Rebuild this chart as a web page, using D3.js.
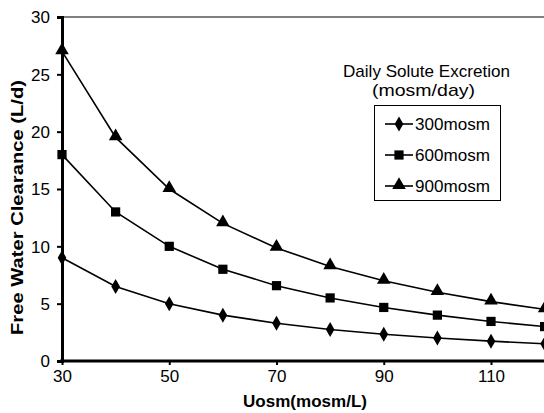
<!DOCTYPE html>
<html><head><meta charset="utf-8">
<script src="https://cdn.jsdelivr.net/npm/d3@7"></script>
<style>body{margin:0;background:#fff}svg{display:block}text{font-family:"Liberation Sans",Arial,sans-serif;fill:#000}</style>
</head><body>
<svg id="c" width="544" height="413"></svg>
<script>
const uosm = [30,40,50,60,70,80,90,100,110,120];
const s300 = [9,6.5,5,4,3.29,2.75,2.33,2,1.73,1.5];
const s600 = [18,13,10,8,6.57,5.5,4.67,4,3.45,3];
const s900 = [27,19.5,15,12,9.86,8.25,7,6,5.18,4.5];
const seriesNames = ["300mosm","600mosm","900mosm"];
const xTicks = [30,50,70,90,110];
const yTicks = [0,5,10,15,20,25,30];

const svg = d3.select("#c");
const x = d3.scaleLinear().domain([30,110]).range([62,491]);
const y = d3.scaleLinear().domain([0,30]).range([361,17]);

svg.append("line").attr("x1",62).attr("x2",544).attr("y1",y(30)).attr("y2",y(30)).attr("stroke","#000").attr("stroke-width",1.2);

const yAxis = svg.append("g").attr("transform","translate(62,0)")
  .call(d3.axisLeft(y).tickValues(yTicks).tickSize(5).tickPadding(7));
yAxis.select(".domain").attr("stroke-width",3);
yAxis.selectAll(".tick line").attr("stroke-width",2);
yAxis.selectAll("text").style("font-size","17px").attr("dy","0.35em");

const xAxis = svg.append("g").attr("transform","translate(0,361)")
  .call(d3.axisBottom(x).tickValues(xTicks).tickSize(4).tickPadding(5));
xAxis.select(".domain").remove();
svg.append("line").attr("x1",60).attr("x2",544).attr("y1",361).attr("y2",361).attr("stroke","#000").attr("stroke-width",3);
xAxis.selectAll(".tick line").attr("stroke-width",2);
xAxis.selectAll("text").style("font-size","17px").attr("dy","0.71em");

svg.append("text").attr("x",243).attr("y",407).attr("textLength",124).attr("lengthAdjust","spacingAndGlyphs")
  .style("font-size","17px").style("font-weight","bold").text("Uosm(mosm/L)");
svg.append("text").attr("transform","translate(23,335) rotate(-90)").attr("textLength",255).attr("lengthAdjust","spacingAndGlyphs")
  .style("font-size","17px").style("font-weight","bold").text("Free Water Clearance (L/d)");

const symbols = [d3.symbolDiamond, d3.symbolSquare, d3.symbolTriangle];
const sizes = [65, 85, 80];
const data = [s300, s600, s900];
const line = d3.line().x((d,i)=>x(uosm[i])).y(d=>y(d));
data.forEach((s,k)=>{
  svg.append("path").attr("d",line(s)).attr("fill","none").attr("stroke","#000").attr("stroke-width",1.6);
  svg.selectAll(null).data(s).enter().append("path")
    .attr("d",d3.symbol().type(symbols[k]).size(sizes[k]))
    .attr("transform",(d,i)=>`translate(${x(uosm[i])},${y(d) + (k===2?-1:0)})`)
    .attr("fill","#000");
});

// legend
svg.append("text").attr("x",343).attr("y",77).attr("textLength",167).attr("lengthAdjust","spacingAndGlyphs").style("font-size","17px").text("Daily Solute Excretion");
svg.append("text").attr("x",372).attr("y",96).attr("textLength",103).attr("lengthAdjust","spacingAndGlyphs").style("font-size","17px").text("(mosm/day)");
svg.append("rect").attr("x",374.5).attr("y",105.5).attr("width",126).attr("height",95).attr("fill","none").attr("stroke","#000").attr("stroke-width",1);
seriesNames.forEach((n,k)=>{
  const ly = 124 + k*31;
  svg.append("line").attr("x1",385).attr("x2",413).attr("y1",ly).attr("y2",ly).attr("stroke","#000").attr("stroke-width",1.6);
  svg.append("path").attr("d",d3.symbol().type(symbols[k]).size(sizes[k])).attr("transform",`translate(399,${ly + (k===2?-1:0)})`).attr("fill","#000");
  svg.append("text").attr("x",415).attr("y",ly).attr("dy","0.35em").attr("textLength",75).attr("lengthAdjust","spacingAndGlyphs").style("font-size","17px").text(n);
});
</script>
</body></html>
